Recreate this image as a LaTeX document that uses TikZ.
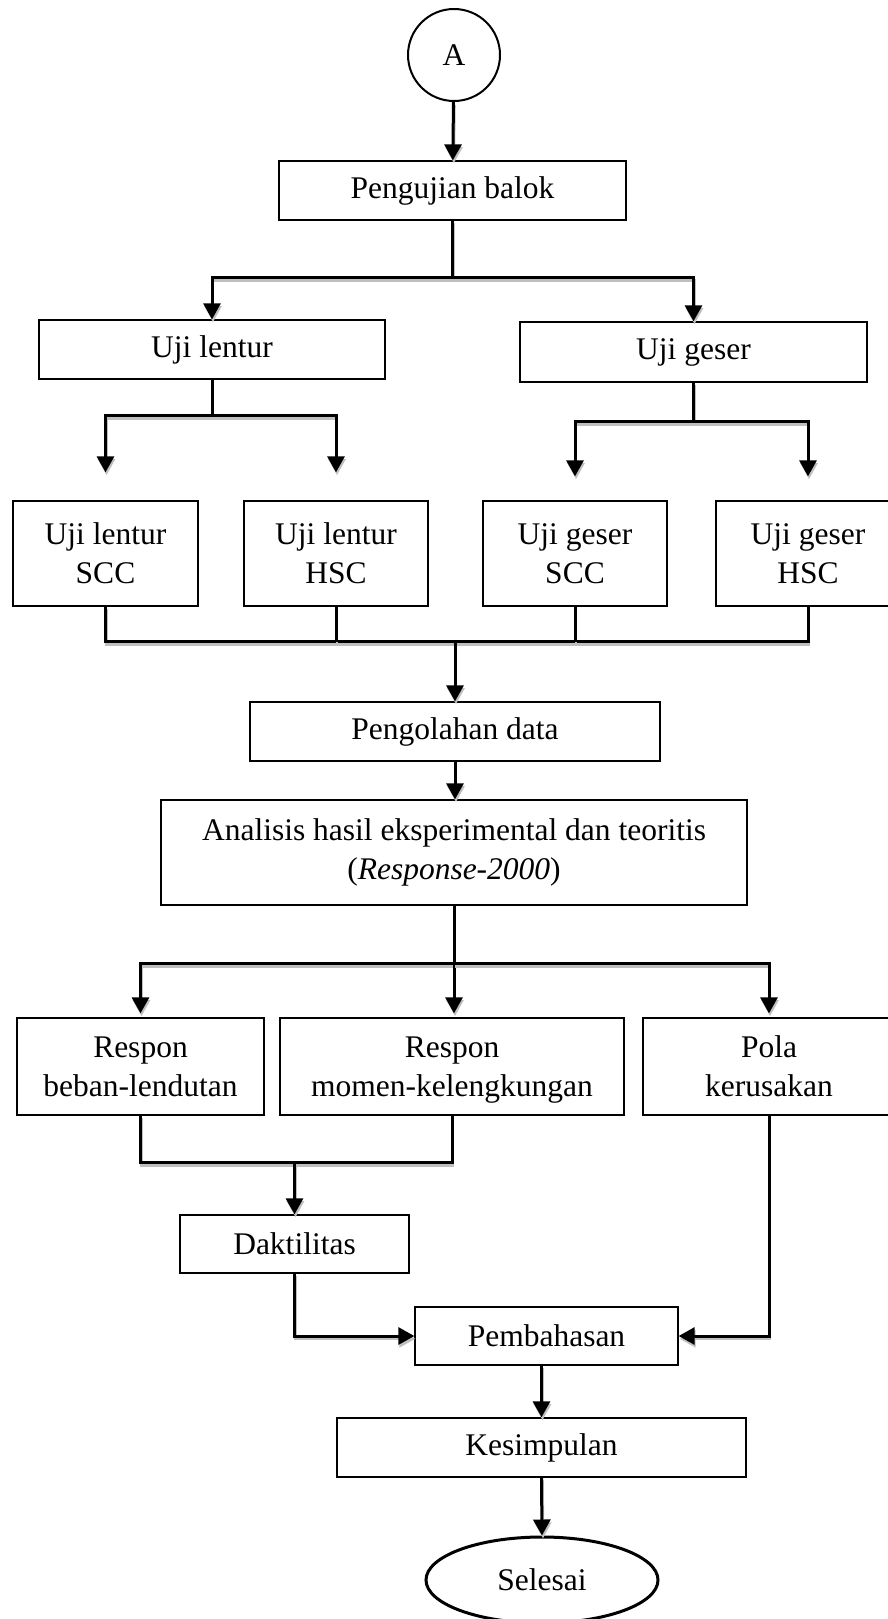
\documentclass[tikz,border=0pt]{standalone}
\usepackage{fontspec}
\setmainfont{Liberation Serif}
\usetikzlibrary{arrows.meta,shapes.geometric}

\begin{document}
\begin{tikzpicture}[x=1pt,y=-1pt,
  box/.style={draw, line width=1.3pt, inner sep=0pt, align=center,
    font=\fontsize{31.5}{39}\selectfont},
  link/.style={line width=3pt,
    preaction={draw=gray!50, line width=2.6pt, transform canvas={shift={(1,2.8)}}}},
  arr/.style={link, -{Triangle[length=16pt,width=17pt]}}]
  \useasboundingbox (0,0) rectangle (888,1619);

  % Start and testing
  \node[draw, circle, line width=2pt, minimum size=92pt, inner sep=0pt,
    font=\fontsize{31.5}{39}\selectfont] (a) at (454,55) {A};
  \node[box, minimum width=347pt, minimum height=59pt] (uji) at (452.5,190.5) {Pengujian balok};

  % Flexure and shear tests
  \node[box, minimum width=346pt, minimum height=59pt] (lentur) at (212,349.5) {Uji lentur};
  \node[box, minimum width=347pt, minimum height=60pt] (geser) at (693.5,352) {Uji geser};

  \node[box, minimum width=185pt, minimum height=105pt] (lscc) at (105.5,553.5) {Uji lentur\\SCC};
  \node[box, minimum width=184pt, minimum height=105pt] (lhsc) at (336,553.5) {Uji lentur\\HSC};
  \node[box, minimum width=184pt, minimum height=105pt] (gscc) at (575,553.5) {Uji geser\\SCC};
  \node[box, minimum width=184pt, minimum height=105pt] (ghsc) at (808,553.5) {Uji geser\\HSC};

  % Data and analysis
  \node[box, minimum width=410pt, minimum height=59pt] (olah) at (455,731.5) {Pengolahan data};
  \node[box, minimum width=586pt, minimum height=105pt] (analisis) at (454,852.5)
    {Analisis hasil eksperimental dan teoritis\\(\textit{Response-2000})};

  % Results
  \node[box, minimum width=247pt, minimum height=97pt] (beban) at (140.5,1066.5) {Respon\\beban-lendutan};
  \node[box, minimum width=344pt, minimum height=97pt] (momen) at (452,1066.5)
    {Respon\\\raisebox{0pt}[\height][0pt]{momen-kelengkungan}};
  \node[box, minimum width=252pt, minimum height=97pt] (pola) at (769,1066.5) {Pola\\kerusakan};
  \node[box, minimum width=229pt, minimum height=58pt] (daktil) at (294.5,1244) {Daktilitas};

  % Discussion and end
  \node[box, minimum width=263pt, minimum height=58pt] (bahas) at (546.5,1336) {Pembahasan};
  \node[box, minimum width=409pt, minimum height=59pt] (simpul) at (541.5,1447.5) {Kesimpulan};
  \node[draw, ellipse, line width=3pt, minimum width=232pt, minimum height=86pt, inner sep=0pt,
    font=\fontsize{31.5}{39}\selectfont] (selesai) at (542,1580) {Selesai};

  % Connectors
  \draw[arr] (a) -- (uji);
  \draw[link] (uji.south) -- ++(0,57) coordinate (s1);
  \draw[arr] (s1) -| (lentur.north);
  \draw[arr] (s1) -| (geser.north);

  \draw[link] (lentur.south) -- ++(0,36) coordinate (s2);
  \draw[arr, shorten >=28pt] (s2) -| (lscc.north);
  \draw[arr, shorten >=28pt] (s2) -| (lhsc.north);
  \draw[link] (geser.south) -- ++(0,39) coordinate (s3);
  \draw[arr, shorten >=24pt] (s3) -| (gscc.north);
  \draw[arr, shorten >=24pt] (s3) -| (ghsc.north);

  \draw[link] (lscc.south) -- ++(0,35) coordinate (s4) -| (ghsc.south);
  \draw[link] (lhsc.south) -- (lhsc.south |- s4);
  \draw[link] (gscc.south) -- (gscc.south |- s4);
  \draw[arr] (s4 -| olah.north) -- (olah.north);
  \draw[arr] (olah.south) -- (olah.south |- analisis.north);

  \draw[link] (analisis.south) -- ++(0,58) coordinate (s5);
  \draw[arr, shorten >=4pt] (s5) -| (beban.north);
  \draw[arr, shorten >=4pt] (s5) -- (s5 |- momen.north);
  \draw[arr, shorten >=4pt] (s5) -| (pola.north);

  \draw[link] (beban.south) -- ++(0,47) coordinate (s6) -| (momen.south);
  \draw[arr] (s6 -| daktil.north) -- (daktil.north);
  \draw[arr] (daktil.south) |- (bahas.west);
  \draw[arr] (pola.south) |- (bahas.east);
  \draw[arr] (bahas.south -| simpul.north) -- (simpul.north);
  \draw[arr] (simpul.south) -- (selesai.north);
\end{tikzpicture}
\end{document}
